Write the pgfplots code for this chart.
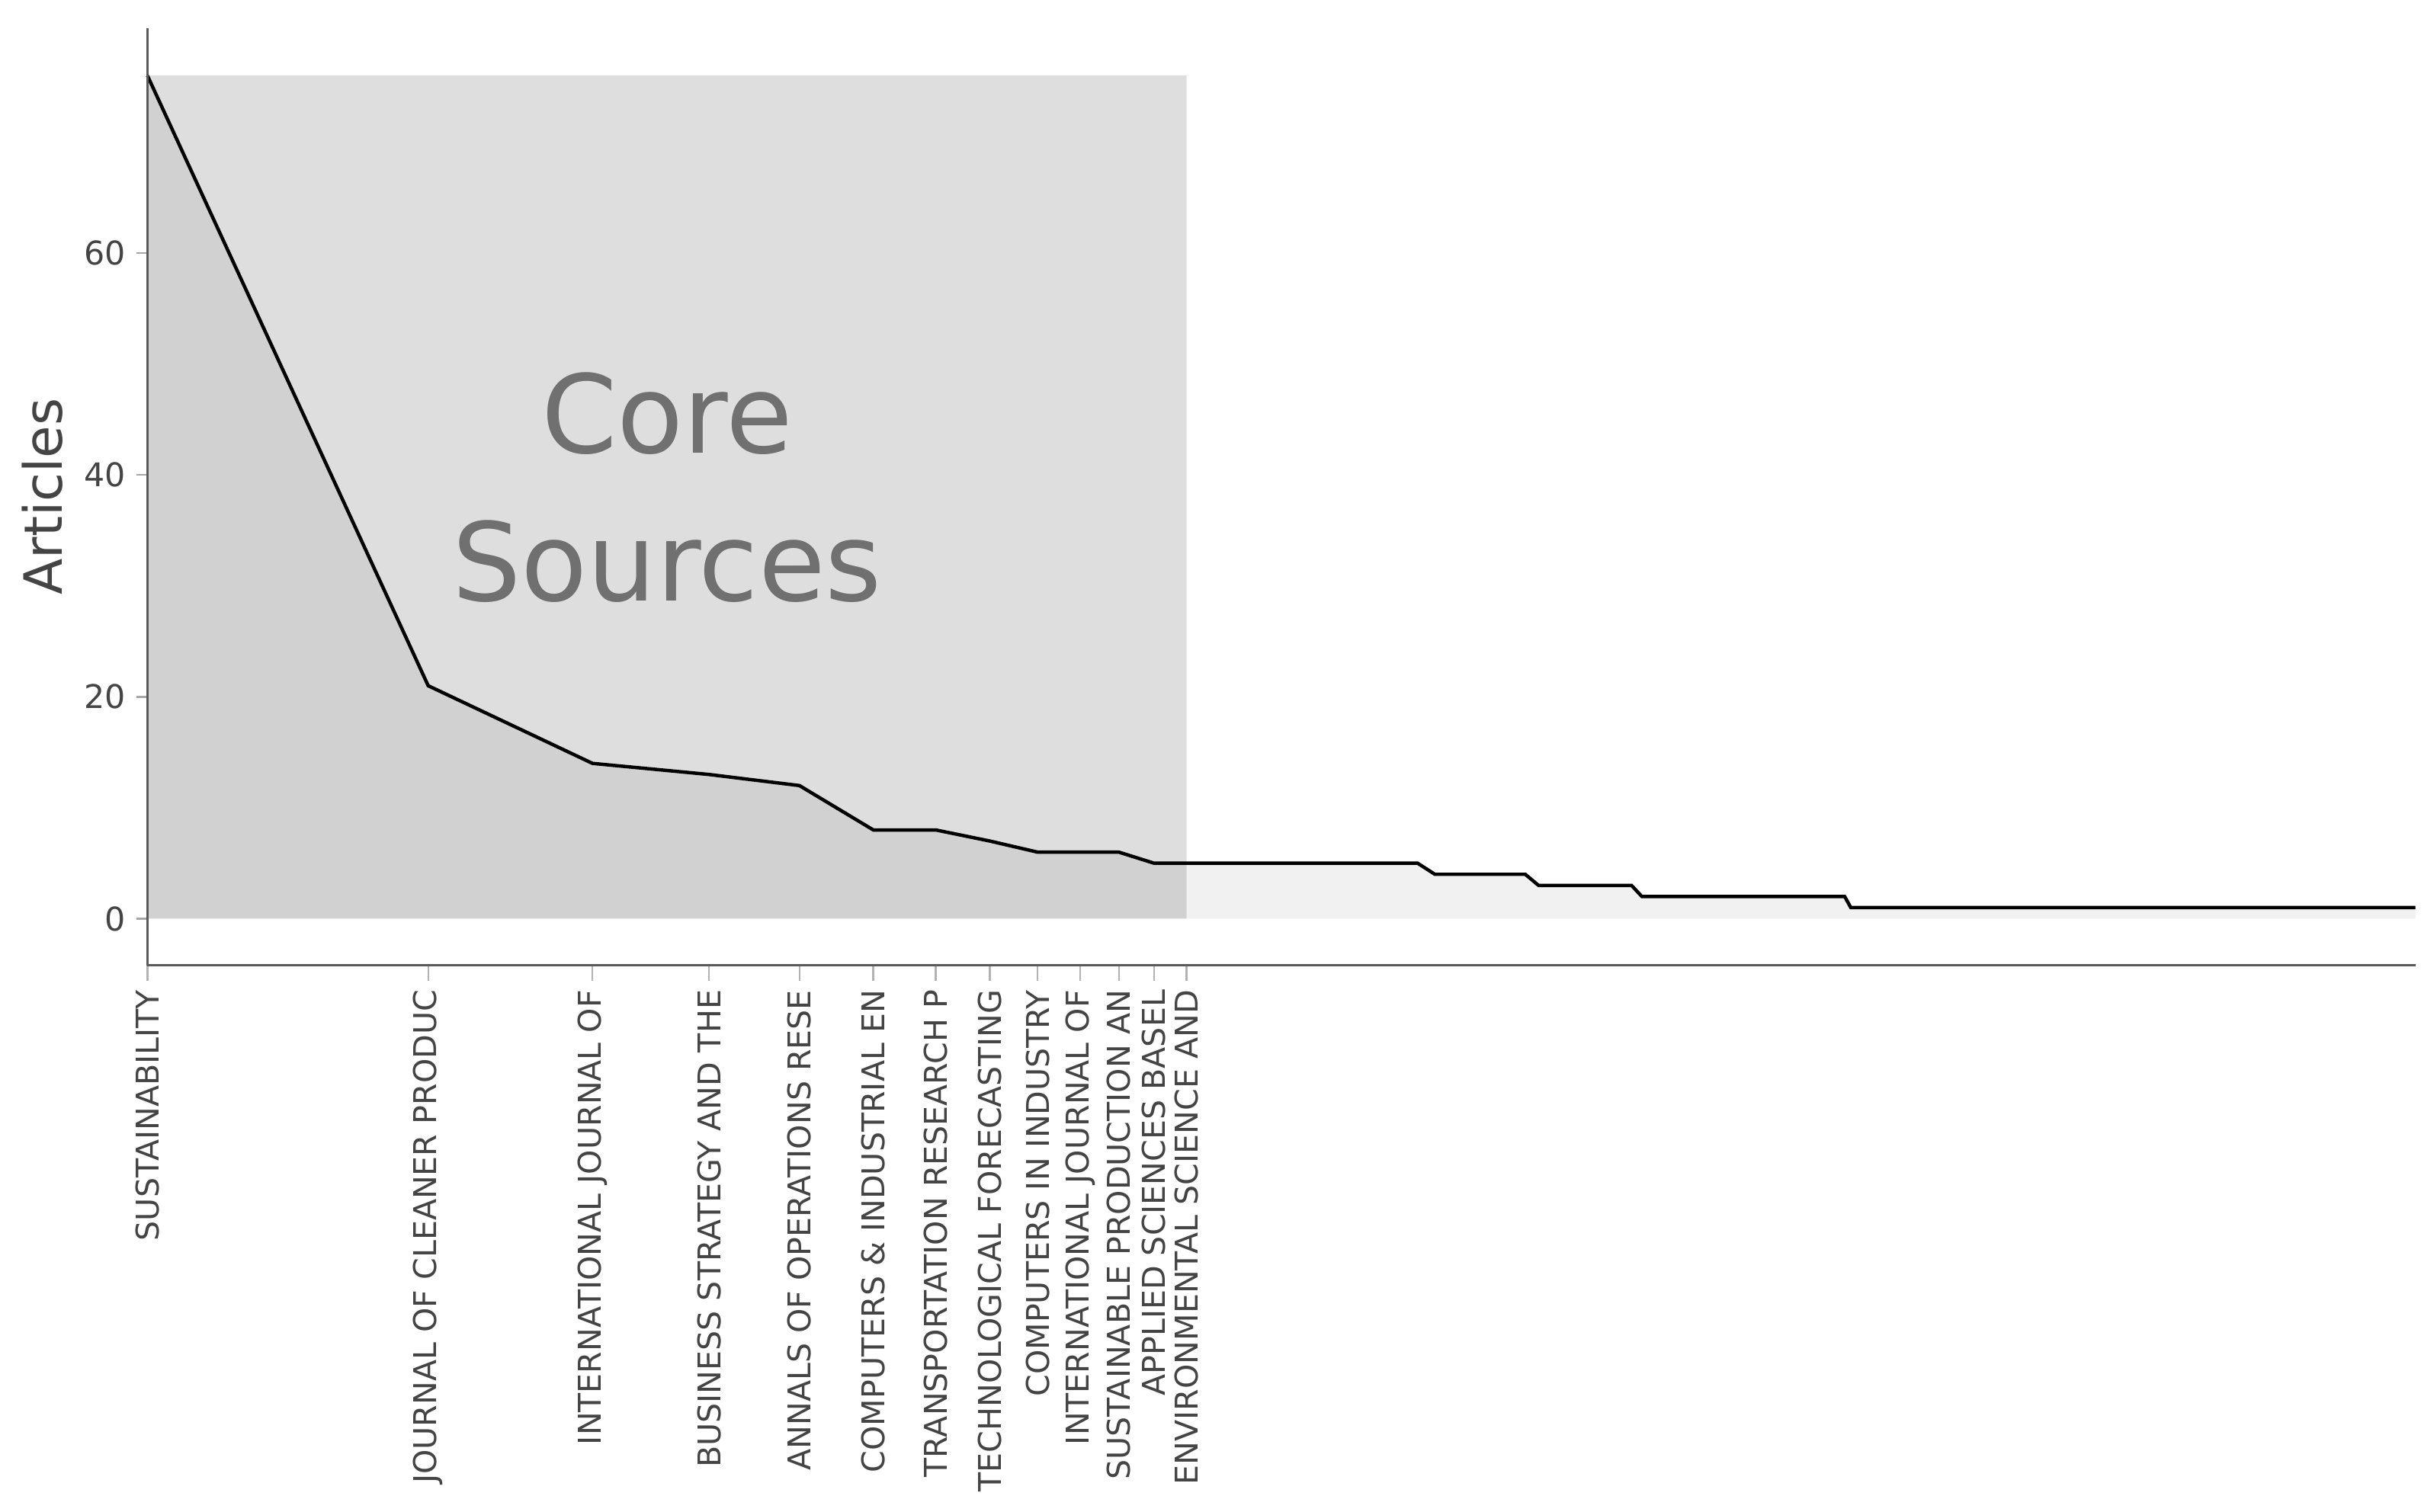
\documentclass[border=0pt]{standalone}
\usepackage{fontspec}
\setmainfont{DejaVu Sans}
\usepackage{pgfplots}
\pgfplotsset{compat=1.18}
\definecolor{axisgray}{HTML}{5A5A5A}
\definecolor{txtgray}{HTML}{444444}
\definecolor{coretxt}{HTML}{707070}
\definecolor{areafill}{HTML}{F1F1F1}

\begin{document}
\begin{tikzpicture}
\begin{axis}[
  scale only axis, width=730.5pt, height=302pt,
  xmode=log, xmin=1, xmax=270,
  ymin=-4.2, ymax=80.3,
  axis x line*=bottom, axis y line*=left,
  axis line style={axisgray, line width=0.8pt},
  axis on top,
  clip=false,
  xtick={1,2,3,4,5,6,7,8,9,10,11,12,13},
  xticklabels={SUSTAINABILITY, JOURNAL OF CLEANER PRODUC, INTERNATIONAL JOURNAL OF,
    BUSINESS STRATEGY AND THE, ANNALS OF OPERATIONS RESE, COMPUTERS \& INDUSTRIAL EN,
    TRANSPORTATION RESEARCH P, TECHNOLOGICAL FORECASTING, COMPUTERS IN INDUSTRY,
    INTERNATIONAL JOURNAL OF, SUSTAINABLE PRODUCTION AN, APPLIED SCIENCES BASEL,
    ENVIRONMENTAL SCIENCE AND},
  xminorticks=false,
  ytick={0,20,40,60},
  tick align=outside,
  xtick style={draw=gray!60, line width=0.6pt, /pgfplots/major tick length=5pt},
  ytick style={draw=gray!70, line width=0.6pt, /pgfplots/major tick length=3.5pt},
  xticklabel style={rotate=90, anchor=east, inner sep=3.5pt,
    font=\fontsize{10.1}{12}\selectfont, text=txtgray},
  yticklabel style={inner sep=2.5pt, font=\fontsize{10.5}{12}\selectfont, text=txtgray},
  /pgf/number format/assume math mode=true,
]
% area under the curve
\addplot[draw=none, fill=areafill] coordinates {
  (1,76) (2,21) (3,14) (4,13) (5,12) (6,8) (7,8) (8,7) (9,6) (10,6) (11,6)
  (12,5) (13,5) (23,5) (24,4) (30,4) (31,3) (39,3) (40,2) (66,2) (67,1) (270,1)
} \closedcycle;
% core sources zone
\addplot[draw=none, fill=black, fill opacity=0.13] coordinates {
  (1,0) (1,76) (13,76) (13,0)
} \closedcycle;
% articles per source
\addplot[black, line width=1.1pt] coordinates {
  (1,76) (2,21) (3,14) (4,13) (5,12) (6,8) (7,8) (8,7) (9,6) (10,6) (11,6)
  (12,5) (13,5) (23,5) (24,4) (30,4) (31,3) (39,3) (40,2) (66,2) (67,1) (270,1)
};
\node[anchor=base, font=\fontsize{35}{40}\selectfont, text=coretxt] at (axis cs:3.606,41.96) {Core};
\node[anchor=base, font=\fontsize{35}{40}\selectfont, text=coretxt] at (axis cs:3.606,28.67) {Sources};
\node[rotate=90, font=\fontsize{17}{20}\selectfont, text=txtgray] at ([xshift=-33.8pt]rel axis cs:0,0.5) {Articles};
\path (rel axis cs:-0.06502,-0.58278) rectangle (rel axis cs:1.00821,1.0298);
\end{axis}
\end{tikzpicture}
\end{document}
